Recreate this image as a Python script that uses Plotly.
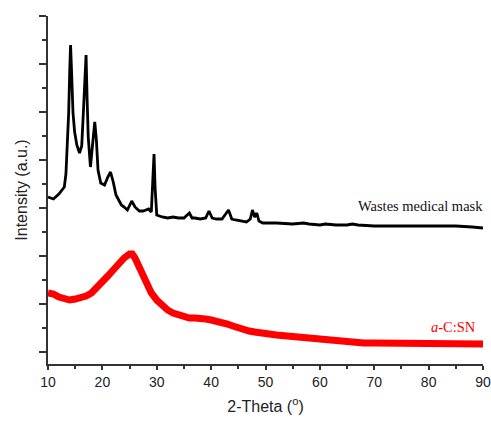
import plotly.graph_objects as go

# Wastes medical mask (black) pattern (a.u.)
mask_theta = [10.0, 11.0, 12.0, 12.5, 13.0, 13.3, 13.5, 13.8, 14.0, 14.15, 14.35, 14.6, 14.9, 15.3,
              15.8, 16.2, 16.5, 16.75, 17.0, 17.2, 17.4, 17.8, 18.2, 18.6, 18.9, 19.2, 19.7, 20.4,
              21.0, 21.5, 22.0, 22.5, 23.0, 23.5, 24.0, 24.6, 25.4, 26.0, 26.8, 27.5, 28.0, 28.5,
              29.0, 29.3, 29.5, 29.7, 30.0, 31.0, 32.0, 33.0, 34.0, 35.0, 36.0, 36.5, 37.0, 38.0,
              39.0, 39.6, 40.2, 41.0, 42.0, 43.2, 43.8, 44.5, 45.5, 46.5, 47.2, 47.6, 48.0, 48.4,
              48.8, 49.5, 50.0, 52.0, 55.0, 57.0, 58.0, 60.0, 61.0, 63.0, 65.0, 66.0, 67.0, 70.0,
              75.0, 80.0, 85.0, 88.0, 90.0]
mask_int = [167, 165, 170, 173, 177, 190, 210, 251, 294, 319, 290, 251, 232, 219,
            211, 218, 251, 284, 309, 264, 227, 197, 217, 242, 224, 194, 181, 179,
            187, 192, 182, 169, 164, 159, 157, 154, 163, 157, 153, 153, 154, 155,
            152, 180, 210, 176, 149, 147, 146, 147, 146, 146, 151, 146, 146, 145,
            146, 153, 146, 145, 145, 154, 145, 144, 143, 142, 145, 154, 147, 151,
            143, 141, 141, 141, 140, 141, 140, 139, 140, 139, 139, 140, 139, 138,
            138, 138, 138, 137, 136]

# a-C:SN (red) pattern (a.u.)
acsn_theta = [10, 11, 12, 13, 14, 15, 16, 17, 18, 19, 20, 21, 22, 23, 24, 25, 25.5, 26, 26.5, 27,
              27.5, 28, 29, 30, 31, 32, 33, 34, 35, 36, 37, 38, 39, 40, 41, 42, 43, 44, 45, 46,
              47, 48, 49, 50, 52, 54, 56, 58, 60, 62, 64, 66, 68, 70, 75, 80, 85, 90]
acsn_int = [71, 70, 67, 65, 64, 65, 66, 68, 71, 76, 82, 88, 94, 101, 106, 110, 110, 106, 100, 92,
            86, 80, 71, 64, 58, 54, 51, 49, 47, 46, 46, 46, 45, 44, 43, 42, 40, 38, 36, 35,
            33, 32, 31, 30, 29, 28, 27, 26, 24, 23, 22, 22, 21, 21, 21, 21, 21, 20]

fig = go.Figure()
fig.add_trace(go.Scatter(x=acsn_theta, y=acsn_int, mode="lines",
                         line=dict(color="#ff0000", width=7), showlegend=False))
fig.add_trace(go.Scatter(x=mask_theta, y=mask_int, mode="lines",
                         line=dict(color="#000000", width=2.8), showlegend=False))

fig.add_annotation(x=1.005, y=158, xref="paper", yref="y", text="Wastes medical mask",
                   showarrow=False, xanchor="right", yanchor="middle",
                   font=dict(family="Liberation Serif", size=14.5, color="#111111"))
fig.add_annotation(x=0.988, y=37, xref="paper", yref="y", text="<i>a</i>-C:SN",
                   showarrow=False, xanchor="right", yanchor="middle",
                   font=dict(family="Liberation Serif", size=14.5, color="#ff0000"))

fig.update_layout(
    width=491, height=421,
    margin=dict(l=48, r=8, t=16, b=57),
    plot_bgcolor="white", paper_bgcolor="white",
    font=dict(family="Liberation Sans", color="#222222"),
    xaxis=dict(range=[10, 90], showline=True, linecolor="#333333", linewidth=1.5,
               showgrid=False, zeroline=False, ticks="outside", ticklen=4, tickwidth=1.5,
               tickcolor="#333333", tick0=10, dtick=10,
               minor=dict(ticks="outside", ticklen=3, tickwidth=1.5, tickcolor="#333333", dtick=5, tick0=10),
               tickfont=dict(size=14, family="Liberation Sans", color="#222222"),
               title=dict(text="2-Theta (<sup>o</sup>)", font=dict(size=16, family="Liberation Sans", color="#222222"),
                          standoff=12),
               automargin=False),
    yaxis=dict(range=[0, 348], showline=True, linecolor="#333333", linewidth=1.5,
               showgrid=False, zeroline=False, ticks="outside", ticklen=7, tickwidth=1.5,
               tickcolor="#333333", tick0=12, dtick=48, showticklabels=False,
               minor=dict(ticks="outside", ticklen=4, tickwidth=1.5, tickcolor="#333333", dtick=24, tick0=12),
               title=dict(text="Intensity (a.u.)", font=dict(size=16, family="Liberation Sans", color="#222222"),
                          standoff=8),
               automargin=False),
)

fig.write_html("out.html", config={"displayModeBar": False},
               post_script="document.body.style.margin='0';document.body.style.overflow='hidden';")
